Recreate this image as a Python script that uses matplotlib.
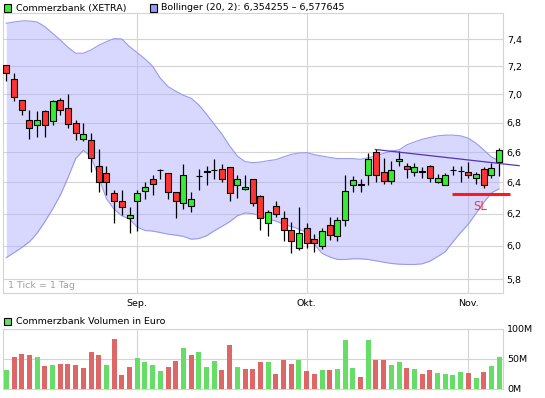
import matplotlib
matplotlib.use("Agg")

import matplotlib.pyplot as plt
from matplotlib.patches import Rectangle
from matplotlib.ticker import FixedLocator, NullLocator

# ---------------------------------------------------------
# DATA (daily candles, Aug - Nov)
# ---------------------------------------------------------
opens = [7.21, 7.11, 6.96, 6.82, 6.78, 6.88, 6.81, 6.96, 6.90, 6.80,
         6.69, 6.68, 6.51, 6.46, 6.33, 6.28, 6.17, 6.28, 6.345, 6.42,
         6.48, 6.46, 6.34, 6.27, 6.25, 6.44, 6.47, 6.48, 6.49, 6.50,
         6.38, 6.36, 6.42, 6.31, 6.14, 6.25, 6.175, 6.10, 5.99, 6.11,
         6.045, 6.00, 6.13, 6.06, 6.16, 6.38, 6.39, 6.45, 6.60, 6.47,
         6.41, 6.54, 6.505, 6.47, 6.47, 6.51, 6.405, 6.385, 6.48, 6.475,
         6.47, 6.425, 6.49, 6.45, 6.535]
highs = [7.21, 7.15, 6.96, 6.89, 6.88, 6.89, 6.96, 6.97, 7.00, 6.82,
         6.80, 6.73, 6.62, 6.51, 6.35, 6.35, 6.24, 6.35, 6.40, 6.45,
         6.49, 6.46, 6.34, 6.52, 6.34, 6.49, 6.51, 6.55, 6.52, 6.50,
         6.45, 6.45, 6.42, 6.32, 6.22, 6.28, 6.215, 6.15, 6.24, 6.14,
         6.075, 6.11, 6.18, 6.18, 6.45, 6.44, 6.42, 6.59, 6.62, 6.56,
         6.54, 6.61, 6.53, 6.53, 6.50, 6.515, 6.455, 6.46, 6.51, 6.505,
         6.535, 6.47, 6.50, 6.525, 6.63]
lows = [7.09, 6.95, 6.85, 6.69, 6.70, 6.70, 6.78, 6.85, 6.76, 6.68,
        6.675, 6.47, 6.34, 6.32, 6.14, 6.19, 6.08, 6.09, 6.29, 6.32,
        6.42, 6.29, 6.17, 6.23, 6.21, 6.35, 6.38, 6.42, 6.40, 6.28,
        6.30, 6.35, 6.25, 6.10, 6.06, 6.18, 6.03, 5.96, 5.975, 5.99,
        5.965, 5.98, 6.035, 6.03, 6.12, 6.335, 6.335, 6.38, 6.40, 6.39,
        6.39, 6.51, 6.43, 6.44, 6.43, 6.40, 6.395, 6.38, 6.45, 6.40,
        6.43, 6.39, 6.365, 6.43, 6.44]
closes = [7.15, 6.98, 6.89, 6.76, 6.82, 6.78, 6.95, 6.89, 6.79, 6.73,
          6.72, 6.56, 6.40, 6.40, 6.28, 6.24, 6.19, 6.33, 6.37, 6.39,
          6.48, 6.34, 6.28, 6.45, 6.29, 6.44, 6.47, 6.48, 6.42, 6.33,
          6.42, 6.37, 6.27, 6.175, 6.21, 6.20, 6.095, 6.03, 6.08, 6.02,
          6.015, 6.09, 6.065, 6.16, 6.345, 6.415, 6.38, 6.55, 6.445, 6.41,
          6.48, 6.555, 6.49, 6.50, 6.47, 6.43, 6.43, 6.45, 6.48, 6.475,
          6.445, 6.455, 6.385, 6.495, 6.615]

bb_upper = [7.521, 7.531, 7.539, 7.539, 7.531, 7.496, 7.445, 7.395, 7.340, 7.296,
            7.296, 7.320, 7.355, 7.382, 7.405, 7.402, 7.345, 7.300, 7.254, 7.200,
            7.113, 7.053, 7.020, 6.991, 6.970, 6.923, 6.858, 6.789, 6.721, 6.641,
            6.573, 6.536, 6.529, 6.533, 6.542, 6.549, 6.567, 6.584, 6.593, 6.596,
            6.582, 6.573, 6.564, 6.556, 6.556, 6.556, 6.551, 6.562, 6.573, 6.591,
            6.607, 6.614, 6.648, 6.668, 6.686, 6.698, 6.709, 6.714, 6.714, 6.709,
            6.693, 6.659, 6.614, 6.567, 6.540]
bb_lower = [5.929, 5.959, 5.990, 6.025, 6.078, 6.149, 6.228, 6.316, 6.429, 6.556,
            6.611, 6.569, 6.435, 6.294, 6.228, 6.186, 6.165, 6.116, 6.095, 6.091,
            6.082, 6.072, 6.066, 6.058, 6.041, 6.045, 6.062, 6.093, 6.120, 6.149,
            6.186, 6.204, 6.200, 6.186, 6.169, 6.153, 6.134, 6.120, 6.103, 6.082,
            6.010, 5.955, 5.933, 5.918, 5.918, 5.922, 5.922, 5.918, 5.910, 5.902,
            5.894, 5.890, 5.888, 5.888, 5.892, 5.908, 5.935, 5.965, 6.025, 6.082,
            6.134, 6.202, 6.270, 6.332, 6.358]

# volume in million EUR, 1 = up day (green), 0 = down day (red)
volume = [32, 54, 59, 56, 54, 39, 40, 42, 42, 40,
          35, 61, 57, 40, 83, 24, 37, 51, 45, 40,
          30, 37, 47, 69, 57, 62, 37, 47, 32, 74,
          37, 34, 34, 45, 45, 25, 49, 42, 49, 30,
          25, 32, 32, 34, 81, 35, 20, 81, 49, 49,
          40, 45, 35, 34, 25, 32, 27, 25, 24, 29,
          27, 19, 29, 39, 54]
vol_up = [1, 0, 0, 0, 1, 0, 1, 0, 0, 0,
          0, 0, 0, 1, 0, 0, 0, 1, 1, 1,
          1, 0, 0, 1, 0, 1, 1, 1, 0, 0,
          1, 0, 0, 0, 1, 0, 0, 0, 1, 0,
          0, 1, 0, 1, 1, 1, 0, 1, 0, 0,
          1, 1, 0, 1, 0, 0, 1, 1, 1, 1,
          0, 1, 0, 1, 1]

month_pos = [17, 39, 60]
month_labels = ["Sep.", "Okt.", "Nov."]
price_ticks = [5.8, 6.0, 6.2, 6.4, 6.6, 6.8, 7.0, 7.2, 7.4]
vol_ticks = [0, 50, 100]

# trend line and stop-loss drawn by hand on the chart
trend_x = [47.9, 66.6]
trend_y = [6.617, 6.509]
sl_x = [57.85, 65.4]
sl_level = 6.323

# ---------------------------------------------------------
# STYLE
# ---------------------------------------------------------
W, H = 545, 398
FS = 6.8
GRID = "#d4d4d4"
RED = "#ff3333"
GREEN = "#33ee33"
VRED = "#dd6666"
VGREEN = "#66dd66"

plt.rcParams["font.family"] = ["DejaVu Sans"]

fig = plt.figure(figsize=(W / 100, H / 100), dpi=100)


def px_box(x0, y0, x1, y1):
    return [x0 / W, 1 - y1 / H, (x1 - x0) / W, (y1 - y0) / H]


ax = fig.add_axes(px_box(3, 13, 503, 293))
axv = fig.add_axes(px_box(3, 329, 503, 389))

n = len(closes)
xs = list(range(n))

# ---------------------------------------------------------
# PRICE PANEL
# ---------------------------------------------------------
ax.set_yscale("log")
ax.set_xlim(-0.43, 64.5)
ax.set_ylim(5.72, 7.60)

ax.fill_between(xs, bb_lower, bb_upper, color="#aaaaff", alpha=0.45,
                lw=0, zorder=2)
ax.plot(xs, bb_upper, color="#9999ee", lw=0.8, zorder=2)
ax.plot(xs, bb_lower, color="#9999ee", lw=0.8, zorder=2)

for i in xs:
    o, h, l, c = opens[i], highs[i], lows[i], closes[i]
    ax.vlines(i, l, h, color="black", lw=0.9, zorder=3)
    if c > o:
        col = GREEN
    elif c < o:
        col = RED
    else:
        col = "black"
    bot = min(o, c)
    hgt = max(abs(c - o), 0.002)
    ax.bar(i, hgt, bottom=bot, width=0.78, color=col, edgecolor="black",
           lw=0.8, zorder=4)

ax.plot(trend_x, trend_y, color="#5533bb", lw=0.9, zorder=5, clip_on=False)
ax.plot(sl_x, [sl_level, sl_level], color="#ff1a1a", lw=2.2, zorder=5,
        clip_on=False, solid_capstyle="butt")
ax.text(61.5, 6.245, "SL", color="#ff3333", fontsize=8.5, ha="center",
        va="center", zorder=5)

ax.yaxis.set_major_locator(FixedLocator(price_ticks))
ax.yaxis.set_minor_locator(NullLocator())
ax.yaxis.set_major_formatter(plt.FuncFormatter(lambda v, p: f"{v:.1f}".replace(".", ",")))
ax.yaxis.tick_right()
ax.xaxis.set_major_locator(FixedLocator(month_pos))
ax.set_xticklabels(month_labels)
ax.tick_params(axis="both", length=0, labelsize=FS, colors="black")
ax.tick_params(axis="y", pad=2.7)
ax.tick_params(axis="x", pad=4.5)
ax.grid(True, color=GRID, lw=0.8, zorder=0)
ax.set_axisbelow(True)
for s in ax.spines.values():
    s.set_color(GRID)
    s.set_linewidth(0.8)

ax.text(0.01, 0.025, "1 Tick = 1 Tag", transform=ax.transAxes, fontsize=FS,
        color="#a0a0a0", ha="left", va="center")

# ---------------------------------------------------------
# VOLUME PANEL
# ---------------------------------------------------------
axv.set_xlim(-0.43, 64.5)
axv.set_ylim(0, 100)
vcols = [VGREEN if u else VRED for u in vol_up]
axv.bar(xs, volume, width=0.65, color=vcols, lw=0, zorder=3)
axv.yaxis.set_major_locator(FixedLocator(vol_ticks))
axv.set_yticklabels([f"{v}M" for v in vol_ticks])
axv.yaxis.tick_right()
axv.xaxis.set_major_locator(FixedLocator(month_pos))
axv.set_xticklabels([])
axv.tick_params(axis="both", length=0, labelsize=FS, colors="black")
axv.tick_params(axis="y", pad=3)
axv.grid(True, color=GRID, lw=0.8, zorder=0)
axv.set_axisbelow(True)
for s in axv.spines.values():
    s.set_color(GRID)
    s.set_linewidth(0.8)

# ---------------------------------------------------------
# LEGEND LINES
# ---------------------------------------------------------
def legend_item(x_sq, y_c, color, text_x, label):
    fig.add_artist(Rectangle((x_sq / W, 1 - (y_c + 3.5) / H), 7 / W, 7 / H,
                             facecolor=color, edgecolor="black", lw=0.8,
                             transform=fig.transFigure))
    fig.text(text_x / W, 1 - y_c / H, label, fontsize=FS, ha="left",
             va="center", color="black")


legend_item(3.5, 8, GREEN, 16.5, "Commerzbank (XETRA)")
legend_item(149.5, 8, "#9999ff", 161, "Bollinger (20, 2): 6,354255 \u2013 6,577645")
legend_item(3.5, 321.5, VGREEN, 15.5, "Commerzbank Volumen in Euro")

fig.savefig("out.png", dpi=100)
